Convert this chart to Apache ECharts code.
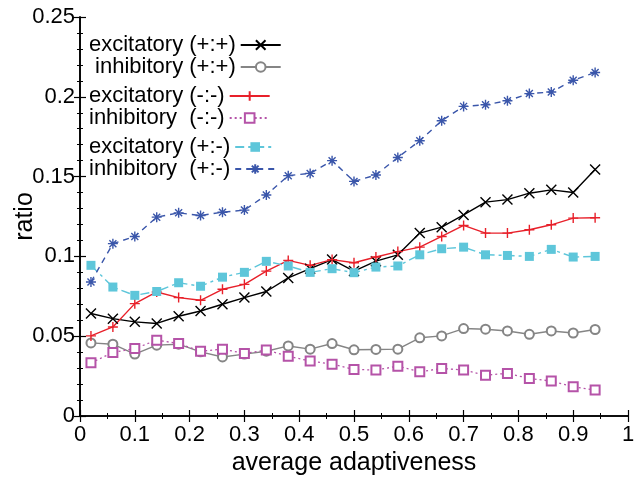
<!DOCTYPE html>
<html>
<head>
<meta charset="utf-8">
<script src="https://cdn.jsdelivr.net/npm/echarts@6/dist/echarts.min.js"></script>
<style>
html,body{margin:0;padding:0;background:#fff;}
#chart{width:642px;height:480px;}
</style>
</head>
<body>
<div id="chart"></div>
<script>
// x positions (average adaptiveness)
const adaptiveness = [0.02,0.06,0.10,0.14,0.18,0.22,0.26,0.30,0.34,0.38,0.42,0.46,0.50,0.54,0.58,0.62,0.66,0.70,0.74,0.78,0.82,0.86,0.90,0.94];

const excitatoryPP = [0.0642,0.061,0.059,0.058,0.0625,0.0658,0.070,0.0742,0.078,0.0865,0.0923,0.098,0.0908,0.097,0.101,0.1146,0.1183,0.126,0.134,0.1356,0.1396,0.1417,0.140,0.1544];
const inhibitoryPP = [0.0458,0.045,0.0388,0.0444,0.045,0.0402,0.037,0.0388,0.0406,0.0439,0.0419,0.0454,0.0415,0.0417,0.0419,0.049,0.0502,0.0548,0.0544,0.0533,0.0512,0.0533,0.052,0.0542];
const excitatoryMM = [0.0502,0.0558,0.0704,0.0777,0.0742,0.0725,0.0794,0.0825,0.0908,0.0975,0.0944,0.098,0.096,0.0996,0.103,0.1058,0.1125,0.1194,0.1146,0.1146,0.1167,0.1198,0.124,0.1242];
const inhibitoryMM = [0.0333,0.0398,0.0423,0.0475,0.0454,0.0406,0.0419,0.0392,0.0413,0.0375,0.0344,0.0325,0.0292,0.0288,0.0312,0.0277,0.0298,0.0288,0.0256,0.0267,0.0235,0.0219,0.0183,0.0163];
const excitatoryPM = [0.0944,0.0808,0.0756,0.078,0.0835,0.0813,0.087,0.090,0.0969,0.094,0.090,0.0923,0.0898,0.0933,0.094,0.101,0.1048,0.1058,0.101,0.1006,0.100,0.1044,0.0996,0.100];
const inhibitoryPM = [0.084,0.108,0.1125,0.1246,0.1273,0.1256,0.1277,0.129,0.1385,0.1506,0.152,0.160,0.147,0.151,0.162,0.1725,0.185,0.194,0.195,0.1975,0.202,0.203,0.2104,0.2152];

const seriesNames = ['excitatory (+:+)','inhibitory (+:+)','excitatory (-:-)','inhibitory  (-:-)','excitatory (+:-)','inhibitory  (+:-)'];

function pairs(ys){ return adaptiveness.map((x,i)=>[x, ys[i]]); }

const chart = echarts.init(document.getElementById('chart'), null, {renderer:'canvas'});
const font = '"Liberation Sans", Arial, Helvetica, sans-serif';

const axisLine = {show:true, lineStyle:{color:'#000', width:1.6}};
const legendBase = {
  orient:'vertical', left:89, padding:0, itemGap:0, itemWidth:40, itemHeight:12,
  align:'right', selectedMode:false,
  textStyle:{fontSize:22, color:'#000', fontFamily:font, lineHeight:21.7}
};

chart.setOption({
  animation:false,
  backgroundColor:'#fff',
  grid:{left:80, right:14, top:17, bottom:64, containLabel:false, outerBoundsMode:'none'},
  legend:[
    Object.assign({}, legendBase, {top:34, data:[seriesNames[0], seriesNames[1]]}),
    Object.assign({}, legendBase, {top:85, data:[seriesNames[2], seriesNames[3]]}),
    Object.assign({}, legendBase, {top:136, data:[seriesNames[4], seriesNames[5]]})
  ],
  xAxis:[
    {type:'value', min:0, max:1, interval:0.1, position:'bottom',
     axisLine:axisLine, axisTick:{inside:true, length:6, lineStyle:{color:'#000', width:1.2}},
     minorTick:{show:true, splitNumber:2, length:3, lineStyle:{color:'#000', width:1}},
     splitLine:{show:false},
     axisLabel:{fontSize:22, color:'#000', fontFamily:font, margin:8},
     name:'average adaptiveness', nameLocation:'middle', nameGap:32,
     nameTextStyle:{fontSize:25, color:'#000', fontFamily:font}},
    {type:'value', min:0, max:1, interval:0.1, position:'top',
     axisLine:axisLine, axisTick:{inside:true, length:6, lineStyle:{color:'#000', width:1.2}},
     minorTick:{show:true, splitNumber:2, length:3, lineStyle:{color:'#000', width:1}},
     splitLine:{show:false}, axisLabel:{show:false}}
  ],
  yAxis:[
    {type:'value', min:0, max:0.25, interval:0.05, position:'left',
     axisLine:axisLine, axisTick:{inside:true, length:6, lineStyle:{color:'#000', width:1.2}},
     minorTick:{show:true, splitNumber:5, length:3, lineStyle:{color:'#000', width:1}},
     splitLine:{show:false},
     axisLabel:{fontSize:22, color:'#000', fontFamily:font, margin:5},
     name:'ratio', nameLocation:'middle', nameGap:42, nameMoveOverlap:false,
     nameTextStyle:{fontSize:25, color:'#000', fontFamily:font}},
    {type:'value', min:0, max:0.25, interval:0.05, position:'right',
     axisLine:axisLine, axisTick:{inside:true, length:6, lineStyle:{color:'#000', width:1.2}},
     minorTick:{show:true, splitNumber:5, length:3, lineStyle:{color:'#000', width:1}},
     splitLine:{show:false}, axisLabel:{show:false}}
  ],
  series:[
    {name:seriesNames[0], type:'line', data:pairs(excitatoryPP),
     symbol:'path://M0,0L10,10M10,0L0,10', symbolSize:10,
     lineStyle:{color:'#000', width:1.4},
     itemStyle:{color:'#000', borderColor:'#000', borderWidth:1.4}},
    {name:seriesNames[1], type:'line', data:pairs(inhibitoryPP),
     symbol:'emptyCircle', symbolSize:9,
     lineStyle:{color:'#858585', width:1.4},
     itemStyle:{color:'#858585', borderColor:'#858585', borderWidth:1.3}},
    {name:seriesNames[2], type:'line', data:pairs(excitatoryMM),
     symbol:'path://M5,0L5,10M0,5L10,5', symbolSize:10,
     lineStyle:{color:'#e8202a', width:1.4},
     itemStyle:{color:'#e8202a', borderColor:'#e8202a', borderWidth:1.4}},
    {name:seriesNames[3], type:'line', data:pairs(inhibitoryMM),
     symbol:'emptyRect', symbolSize:9,
     lineStyle:{color:'#b553a8', width:1.3, type:[2,3]},
     itemStyle:{color:'#b553a8', borderColor:'#b553a8', borderWidth:1.3}},
    {name:seriesNames[4], type:'line', data:pairs(excitatoryPM),
     symbol:'rect', symbolSize:9,
     lineStyle:{color:'#5ec6da', width:1.4, type:[9,4,3,4]},
     itemStyle:{color:'#5ec6da', borderColor:'#5ec6da', borderWidth:0}},
    {name:seriesNames[5], type:'line', data:pairs(inhibitoryPM),
     symbol:'path://M5,0L5,10M0,5L10,5M1.5,1.5L8.5,8.5M8.5,1.5L1.5,8.5', symbolSize:10,
     lineStyle:{color:'#3a56aa', width:1.4, type:[6,5]},
     itemStyle:{color:'#3a56aa', borderColor:'#3a56aa', borderWidth:1.4}}
  ]
});
</script>
</body>
</html>
